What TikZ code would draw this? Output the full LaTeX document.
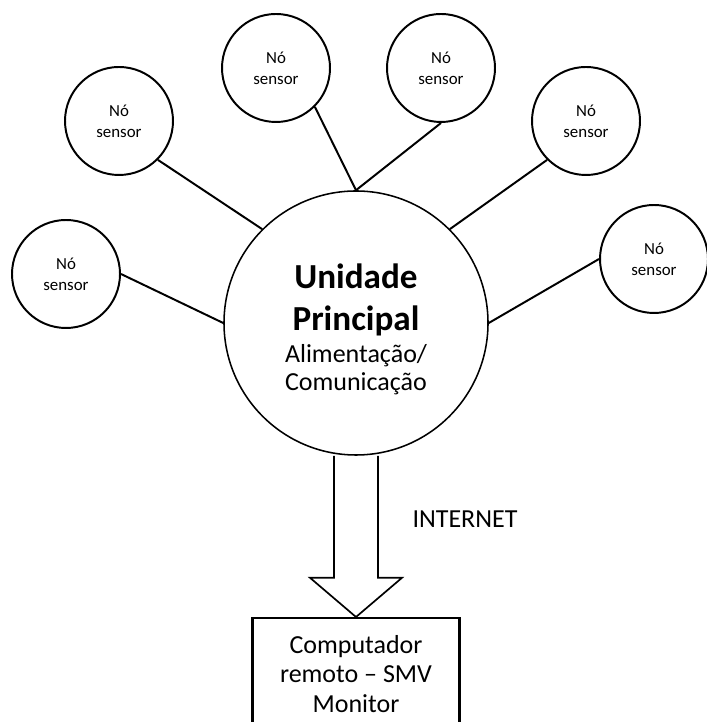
\documentclass[tikz,border=0pt]{standalone}
\usepackage{fontspec}
\setmainfont{Carlito}
\usetikzlibrary{calc}

\tikzset{
  sensor/.style={circle, draw, line width=1.4pt, minimum size=2.7cm, inner sep=0pt, align=center,
    font=\fontsize{12}{15}\selectfont},
  hub/.style={circle, draw, line width=1.1pt, minimum size=6.6cm, inner sep=0pt, align=center,
    font=\fontsize{18.5}{20}\selectfont},
  link/.style={line width=1.4pt},
}

\begin{document}
\begin{tikzpicture}
\useasboundingbox (0, 0) rectangle (17.675, 18.05);
\clip (0, 0) rectangle (17.675, 18.05);

\node[hub] (main) at (8.9, 9.975) {{\fontsize{25}{28}\selectfont\bfseries\rule{0pt}{27pt}Unidade}\\[9.5pt]{\fontsize{25}{28}\selectfont\bfseries Principal}\\[3pt]Alimentação/\\Comunicação};

\node[sensor] (s1) at (1.65, 11.2) {Nó\\sensor};
\node[sensor] (s2) at (2.975, 15.025) {Nó\\sensor};
\node[sensor] (s3) at (6.9, 16.35) {Nó\\sensor};
\node[sensor] (s4) at (11.025, 16.35) {Nó\\sensor};
\node[sensor] (s5) at (14.65, 15.025) {Nó\\sensor};
\node[sensor] (s6) at (16.35, 11.575) {Nó\\sensor};

\draw[link] (s1.east) -- (main.west);
\draw[link] (s2.-45) -- (main.135);
\draw[link] (s3.-45) -- (main.north);
\draw[link] (s4.south) -- (main.north);
\draw[link] (s5.-135) -- (main.45);
\draw[link] (s6.west) -- (main.east);

\node[draw, line width=1.5pt, minimum width=5.175cm, minimum height=2.8cm, anchor=north, align=center,
  font=\fontsize{18.5}{21.3}\selectfont] (pc) at (8.9, 2.625) {Computador\\remoto -- SMV\\Monitor};

% seta larga
\draw[line width=1.2pt, line join=miter] ($(main.south)+(-0.55, 0)$) -- ($(main.south)+(-0.55, -3.05)$) -- ($(main.south)+(-1.15, -3.05)$)
  -- (pc.north) -- ($(main.south)+(1.15, -3.05)$) -- ($(main.south)+(0.55, -3.05)$) -- ($(main.south)+(0.55, 0)$);

\node[font=\fontsize{18.5}{20}\selectfont] (net) at (11.625, 5.075) {INTERNET};
\end{tikzpicture}
\end{document}
